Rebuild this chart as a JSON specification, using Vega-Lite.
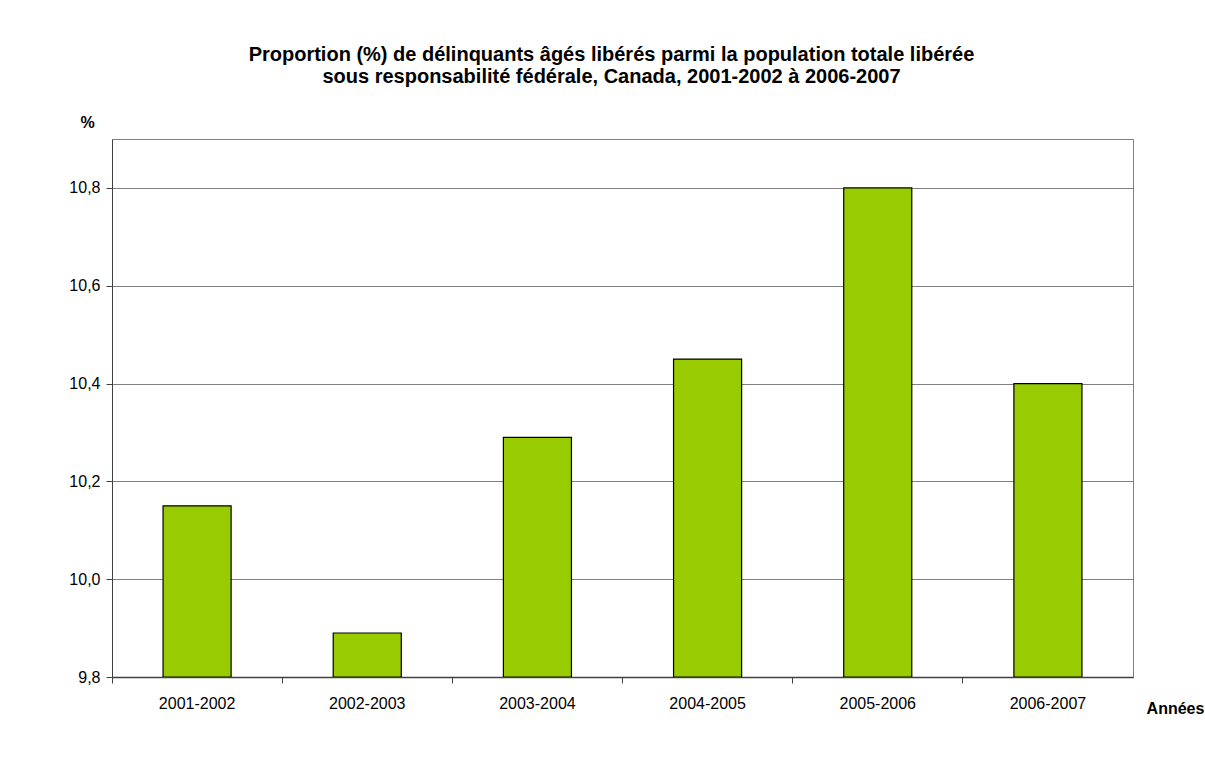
{
  "$schema": "https://vega.github.io/schema/vega-lite/v6.json",
  "width": 1021,
  "height": 538,
  "autosize": {"type": "none"},
  "padding": {"left": 112, "top": 139, "right": 72, "bottom": 83},
  "background": "white",
  "title": {
    "text": ["Proportion (%) de délinquants âgés libérés parmi la population totale libérée", "sous responsabilité fédérale, Canada, 2001-2002 à 2006-2007"],
    "font": "Liberation Sans",
    "fontSize": 20,
    "fontWeight": "bold",
    "color": "black",
    "anchor": "middle",
    "frame": "group",
    "dx": -11,
    "offset": 27,
    "lineHeight": 22
  },
  "config": {
    "font": "Liberation Sans",
    "view": {"stroke": "#808080", "strokeWidth": 1}
  },
  "data": {
    "values": [
      {"annee": "2001-2002", "pct": 10.15},
      {"annee": "2002-2003", "pct": 9.89},
      {"annee": "2003-2004", "pct": 10.29},
      {"annee": "2004-2005", "pct": 10.45},
      {"annee": "2005-2006", "pct": 10.80},
      {"annee": "2006-2007", "pct": 10.40}
    ]
  },
  "mark": {"type": "bar", "color": "#99CC00", "stroke": "black", "strokeWidth": 1.2, "clip": true},
  "encoding": {
    "x": {
      "field": "annee",
      "type": "nominal",
      "sort": null,
      "scale": {"paddingInner": 0.6, "paddingOuter": 0.3},
      "axis": {
        "title": "Années",
        "titleFont": "Liberation Sans",
        "titleFontSize": 16,
        "titleFontWeight": "bold",
        "titleColor": "black",
        "titleAngle": 0,
        "titleAlign": "center",
        "titleBaseline": "middle",
        "titleX": 1063,
        "titleY": 31,
        "labelAngle": 0,
        "labelFontSize": 16,
        "labelColor": "black",
        "labelPadding": 12,
        "bandPosition": -0.75,
        "tickSize": 6,
        "tickColor": "#404040",
        "domainColor": "#404040",
        "domainWidth": 1.5,
        "grid": false
      }
    },
    "y": {
      "field": "pct",
      "type": "quantitative",
      "scale": {"domain": [9.8, 10.9], "nice": false, "zero": false},
      "axis": {
        "title": "%",
        "titleFont": "Liberation Sans",
        "titleFontSize": 16,
        "titleFontWeight": "bold",
        "titleColor": "black",
        "titleAngle": 0,
        "titleAlign": "center",
        "titleBaseline": "middle",
        "titleX": -25,
        "titleY": -17,
        "values": [9.8, 10.0, 10.2, 10.4, 10.6, 10.8],
        "labelExpr": "replace(format(datum.value, '.1f'), '.', ',')",
        "labelFontSize": 16,
        "labelColor": "black",
        "labelPadding": 6,
        "tickSize": 6,
        "tickColor": "#404040",
        "domainColor": "#404040",
        "grid": true,
        "gridColor": "#808080",
        "gridWidth": 1
      }
    },
    "y2": {"datum": 9.8}
  }
}
